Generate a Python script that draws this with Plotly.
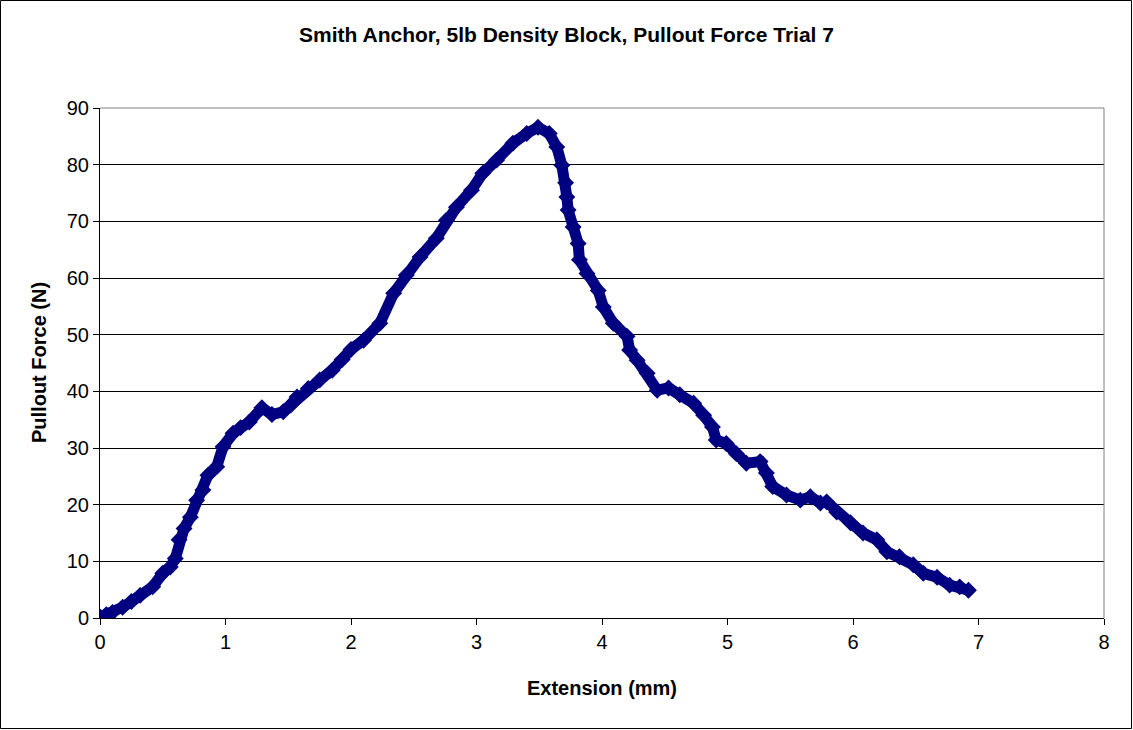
import plotly.graph_objects as go

# Extension (mm) and pullout force (N)
extension_mm = [
    0.00, 0.05, 0.10, 0.18, 0.25, 0.32, 0.42, 0.50, 0.56, 0.60, 0.63, 0.67,
    0.72, 0.77, 0.82, 0.86, 0.93, 0.98, 1.06, 1.12, 1.19, 1.29, 1.37, 1.46,
    1.52, 1.57, 1.66, 1.75, 1.85, 1.93, 2.00, 2.10, 2.23, 2.34, 2.44, 2.55,
    2.68, 2.76, 2.84, 2.96, 3.05, 3.16, 3.29, 3.40, 3.49, 3.58, 3.64, 3.68,
    3.71, 3.72, 3.73, 3.77, 3.81, 3.82, 3.88, 3.97, 4.01, 4.09, 4.20, 4.22,
    4.28, 4.36, 4.44, 4.53, 4.62, 4.73, 4.81, 4.88, 4.91, 4.99, 5.07, 5.15,
    5.26, 5.31, 5.36, 5.47, 5.58, 5.66, 5.74, 5.79, 5.87, 5.98, 6.08, 6.19,
    6.27, 6.37, 6.48, 6.56, 6.67, 6.77, 6.85, 6.92,
]
force_n = [
    0.2, 0.6, 1.0, 1.9, 2.9, 4.0, 5.5, 7.9, 9.0, 10.5, 13.8, 15.8,
    17.8, 20.8, 22.6, 25.2, 26.7, 30.2, 32.6, 33.6, 34.6, 37.1, 35.9, 36.4,
    37.6, 39.0, 40.5, 42.0, 43.7, 45.6, 47.4, 49.0, 52.0, 57.3, 60.5, 63.7,
    67.0, 70.2, 72.5, 75.5, 78.5, 80.8, 83.8, 85.5, 86.6, 85.5, 83.1, 79.9,
    76.8, 74.3, 72.0, 69.0, 66.1, 63.2, 60.8, 57.8, 54.9, 52.0, 49.7, 47.3,
    45.5, 43.2, 40.2, 40.6, 39.4, 37.9, 35.8, 33.7, 31.4, 30.8, 29.0, 27.3,
    27.6, 25.6, 23.2, 21.7, 20.8, 21.4, 20.3, 20.5, 18.7, 16.8, 15.0, 13.8,
    11.7, 10.8, 9.4, 7.9, 7.2, 5.8, 5.5, 4.9,
]

title_text = "Smith Anchor, 5lb Density Block, Pullout Force Trial 7"
x_title = "Extension (mm)"
y_title = "Pullout Force (N)"
x_ticks = [0, 1, 2, 3, 4, 5, 6, 7, 8]
y_ticks = [0, 10, 20, 30, 40, 50, 60, 70, 80, 90]

NAVY = "#000080"
FONT = "Liberation Sans, Arial, sans-serif"

fig = go.Figure()
fig.add_trace(go.Scatter(
    x=extension_mm, y=force_n,
    mode="lines+markers",
    line=dict(color=NAVY, width=11),
    marker=dict(symbol="diamond", size=13, color=NAVY),
    showlegend=False,
    hoverinfo="x+y",
))

W, H = 1133, 730
L, R, T, B = 100, 29, 108, 112
pw, ph = W - L - R, H - T - B

fig.update_layout(
    width=W, height=H,
    margin=dict(l=L, r=R, t=T, b=B, pad=0),
    paper_bgcolor="white", plot_bgcolor="white",
    font=dict(family=FONT, size=20, color="black"),
    title=dict(
        text=f"<b>{title_text}</b>",
        x=0.5, xref="container", xanchor="center",
        y=1 - 35 / H, yref="container", yanchor="middle",
        font=dict(family=FONT, size=21, color="black"),
    ),
    xaxis=dict(
        range=[0, 8], tickvals=x_ticks, ticktext=[str(v) for v in x_ticks],
        showgrid=False, zeroline=False,
        showline=True, linecolor="black", linewidth=1,
        ticks="outside", ticklen=6, tickcolor="black", tickwidth=1,
        tickfont=dict(family=FONT, size=20, color="black"),
        fixedrange=True,
    ),
    yaxis=dict(
        range=[0, 90], tickvals=y_ticks, ticktext=[str(v) for v in y_ticks],
        showgrid=True, gridcolor="black", gridwidth=1, zeroline=False,
        showline=True, linecolor="black", linewidth=1,
        ticks="outside", ticklen=6, tickcolor="black", tickwidth=1,
        tickfont=dict(family=FONT, size=20, color="black"),
        fixedrange=True,
    ),
    annotations=[
        dict(text=f"<b>{x_title}</b>", xref="paper", yref="paper",
             x=0.5, y=-(688 - 618) / ph, xanchor="center", yanchor="middle",
             showarrow=False, font=dict(family=FONT, size=20, color="black")),
        dict(text=f"<b>{y_title}</b>", xref="paper", yref="paper",
             x=(39 - L) / pw, y=0.5, xanchor="center", yanchor="middle",
             textangle=-90, showarrow=False,
             font=dict(family=FONT, size=20, color="black")),
    ],
    shapes=[
        # gray plot-area border on top and right
        dict(type="line", xref="paper", yref="paper", x0=0, x1=1, y0=1, y1=1,
             line=dict(color="#808080", width=1), layer="above"),
        dict(type="line", xref="paper", yref="paper", x0=1, x1=1, y0=0, y1=1,
             line=dict(color="#808080", width=1), layer="above"),
        # outer chart border
        dict(type="rect", xref="paper", yref="paper",
             x0=-(L - 0.5) / pw, x1=1 + (R - 1.5) / pw,
             y0=-(B - 1.5) / ph, y1=1 + (T - 0.5) / ph,
             line=dict(color="black", width=1), layer="above"),
    ],
)

fig.write_html(
    "out.html",
    config={"displayModeBar": False},
    post_script="document.body.style.margin='0';document.body.style.padding='0';",
)
